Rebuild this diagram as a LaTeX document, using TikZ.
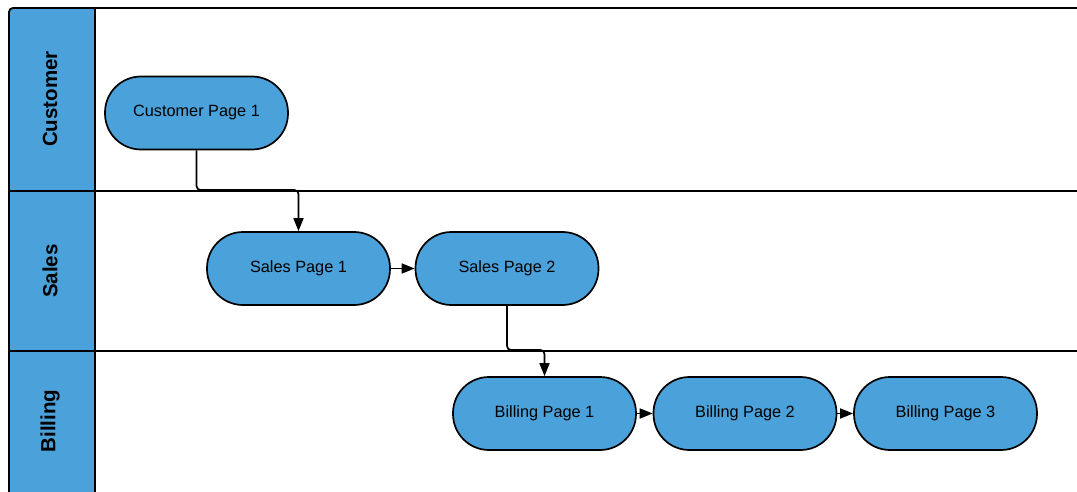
\documentclass[tikz,border=0pt]{standalone}
\usepackage{fontspec}
\setmainfont{Liberation Sans}
\usetikzlibrary{arrows.meta}
\definecolor{laneblue}{RGB}{75,161,217}
\tikzset{
  page/.style={draw=black, line width=1.7pt, fill=laneblue, rounded corners=36pt,
    minimum width=183pt, minimum height=73pt, inner sep=0pt, font=\fontsize{16.3}{19}\selectfont},
  lanelabel/.style={rotate=90, font=\bfseries\fontsize{20.5}{24}\selectfont},
  frame/.style={draw=black, line width=1.8pt},
  conn/.style={draw=black, line width=1.7pt, rounded corners=4pt,
    -{Triangle[length=13pt,width=10pt]}}
}
\begin{document}
\begin{tikzpicture}[x=1pt,y=-1pt]
\useasboundingbox (0,0) rectangle (1077,492);
\clip (0,0) rectangle (1077,492);
% header column
\fill[laneblue, rounded corners=4pt] (9,8) rectangle (95,520);
\draw[frame, rounded corners=4pt] (9,520) -- (9,8) -- (1090,8);
\draw[frame] (95,8) -- (95,520);
\draw[frame] (9,191) -- (1090,191);
\draw[frame] (9,351) -- (1090,351);
% lane labels
\node[lanelabel] (lc) at (50,99) {Customer};
\node[lanelabel] (ls) at (50,271) {Sales};
\node[lanelabel] (lb) at (50,421) {Billing};
% pages
\node[page] (c1) at (196.5,113) {\raisebox{-1pt}{Customer Page 1}};
\node[page] (s1) at (298.5,268.5) {\raisebox{-1pt}{Sales Page 1}};
\node[page] (s2) at (507,268.5) {\raisebox{-1pt}{Sales Page 2}};
\node[page] (b1) at (544.5,413.5) {\raisebox{-1pt}{Billing Page 1}};
\node[page] (b2) at (745,413.5) {\raisebox{-1pt}{Billing Page 2}};
\node[page] (b3) at (945.5,413.5) {\raisebox{-1pt}{Billing Page 3}};
% connectors
\coordinate (j1) at (196.5,190);
\coordinate (j2) at (507,350);
\draw[conn] (c1.south) -- (j1) -| (s1.north);
\draw[conn] (s2.south) -- (j2) -| (b1.north);
\draw[conn] (s1.east) -- (s2.west);
\draw[conn] (b1.east) -- (b2.west);
\draw[conn] (b2.east) -- (b3.west);
\end{tikzpicture}
\end{document}
